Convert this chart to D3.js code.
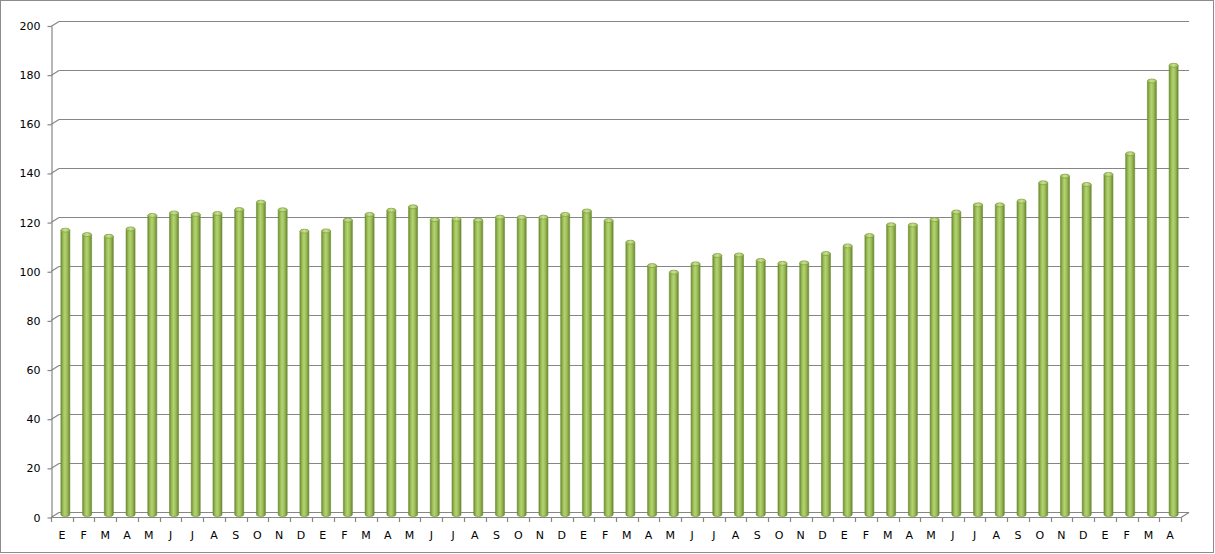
<!DOCTYPE html>
<html>
<head>
<meta charset="utf-8">
<script src="https://cdn.jsdelivr.net/npm/d3@7/dist/d3.min.js"></script>
<style>
html,body{margin:0;padding:0;background:#fff;}
svg{display:block;}
</style>
</head>
<body>
<svg id="chart" width="1215" height="554"></svg>
<script>
const categories = ["E","F","M","A","M","J","J","A","S","O","N","D",
  "E","F","M","A","M","J","J","A","S","O","N","D",
  "E","F","M","A","M","J","J","A","S","O","N","D",
  "E","F","M","A","M","J","J","A","S","O","N","D",
  "E","F","M","A"];
const values = [115.7,113.9,113.2,116.2,121.7,122.7,122.1,122.5,124.1,127.1,124.0,115.3,
  115.4,119.8,122.1,123.8,125.2,120.0,120.2,119.8,121.0,120.9,121.0,122.1,
  123.5,119.6,110.8,101.3,98.6,102.0,105.4,105.6,103.4,102.2,102.4,106.2,
  109.3,113.5,117.9,117.8,120.0,123.1,126.0,126.0,127.5,135.0,137.7,134.3,
  138.4,146.8,176.4,182.8];
const yTicks = [0,20,40,60,80,100,120,140,160,180,200];

(function(){
const svg = d3.select("#chart");
const W = 1215, H = 554;
const pLeft = 51, pRight = 1181, pBottom = 517, pTop = 25.5;
const dx = 8, dy = -5;
const gridColor = "#868686";

svg.append("rect").attr("x",0.5).attr("y",0.5).attr("width",W-2).attr("height",H-2)
  .attr("fill","#fff").attr("stroke","#8c8c8c").attr("stroke-width",1);

const x = d3.scaleBand().domain(d3.range(categories.length)).range([pLeft,pRight]).padding(0);
const y = d3.scaleLinear().domain([0,200]).range([pBottom, pTop]);

const defs = svg.append("defs");
const g1 = defs.append("linearGradient").attr("id","cyl").attr("x1","0").attr("x2","1").attr("y1","0").attr("y2","0");
[["0%","#6d8b31"],["25%","#9cbf58"],["45%","#b3d372"],["70%","#9bbd57"],["100%","#6a8630"]]
  .forEach(([o,c])=>g1.append("stop").attr("offset",o).attr("stop-color",c));
const g2 = defs.append("linearGradient").attr("id","cap").attr("x1","0").attr("x2","1").attr("y1","0").attr("y2","0");
[["0%","#9dbd5d"],["50%","#c8e291"],["100%","#9aba58"]]
  .forEach(([o,c])=>g2.append("stop").attr("offset",o).attr("stop-color",c));

const grid = svg.append("g");
yTicks.forEach(t=>{
  const yy = Math.round(y(t))+0.5;
  grid.append("line").attr("x1",pLeft).attr("y1",yy).attr("x2",pLeft+dx).attr("y2",yy+dy)
    .attr("stroke",gridColor).attr("stroke-width",1.2);
  grid.append("line").attr("x1",pLeft+dx).attr("y1",yy+dy).attr("x2",pRight+dx).attr("y2",yy+dy)
    .attr("stroke",gridColor).attr("stroke-width",1.2);
});
svg.append("line").attr("x1",pLeft).attr("y1",pBottom+0.5).attr("x2",pRight).attr("y2",pBottom+0.5)
  .attr("stroke",gridColor).attr("stroke-width",1.2);
svg.append("line").attr("x1",pRight).attr("y1",pBottom+0.5).attr("x2",pRight+dx).attr("y2",pBottom+0.5+dy)
  .attr("stroke",gridColor).attr("stroke-width",1.2);

const bw = 9, rx = bw/2, ry = 2;
const bars = svg.append("g");
values.forEach((v,i)=>{
  const cx = x(i) + x.bandwidth()/2 + dx/2 - 0.5;
  const yt = y(v) + dy/2;
  const yb = pBottom + dy/2;
  bars.append("path")
    .attr("d", `M${cx-rx},${yt} L${cx-rx},${yb} A${rx},${ry} 0 0 0 ${cx+rx},${yb} L${cx+rx},${yt} Z`)
    .attr("fill","url(#cyl)").attr("stroke","#6f8c34").attr("stroke-width",0.6);
  bars.append("ellipse").attr("cx",cx).attr("cy",yt).attr("rx",rx).attr("ry",ry)
    .attr("fill","url(#cap)").attr("stroke","#7c9a3e").attr("stroke-width",0.7);
});

const yAxis = d3.axisLeft(y).tickValues(yTicks).tickSize(4).tickPadding(7).tickSizeOuter(0);
const ya = svg.append("g").attr("transform",`translate(${pLeft+0.5},0.5)`).call(yAxis);
ya.select(".domain").attr("stroke",gridColor).attr("stroke-width",1.2);
ya.selectAll(".tick line").attr("stroke",gridColor).attr("stroke-width",1.2);
ya.selectAll("text").attr("font-family","'DejaVu Sans', Verdana, sans-serif").attr("font-size","11px").attr("fill","#000");

const xAxis = d3.axisBottom(x).tickFormat(i=>categories[i]).tickSize(0).tickPadding(14).tickSizeOuter(0);
const xa = svg.append("g").attr("transform",`translate(0,${pBottom+0.5})`).call(xAxis);
xa.select(".domain").remove();
xa.selectAll("text").attr("font-family","'DejaVu Sans', Verdana, sans-serif").attr("font-size","11px").attr("fill","#000");
const bounds = d3.range(categories.length+1).map(i=> i<categories.length ? x(i) : pRight);
svg.append("g").selectAll("line").data(bounds).join("line")
  .attr("x1",d=>Math.round(d)+0.5).attr("x2",d=>Math.round(d)+0.5)
  .attr("y1",pBottom).attr("y2",pBottom+5)
  .attr("stroke",gridColor).attr("stroke-width",1.2);
})();
</script>
</body>
</html>
